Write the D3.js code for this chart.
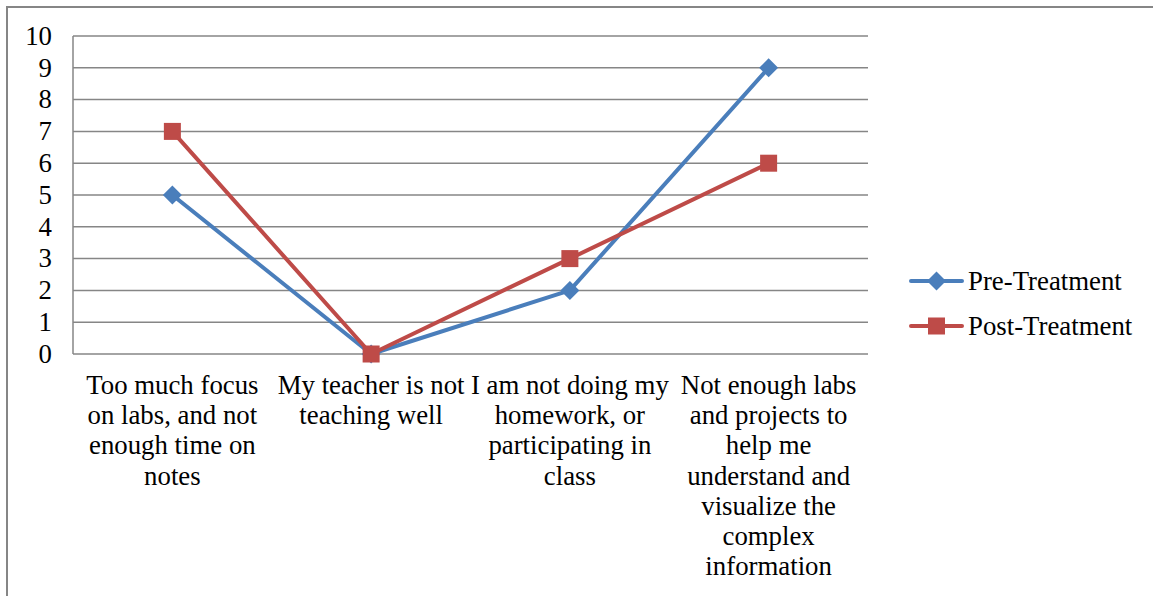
<!DOCTYPE html>
<html>
<head>
<meta charset="utf-8">
<script src="https://cdn.jsdelivr.net/npm/d3@7"></script>
<style>
  body { margin: 0; background: #fff; }
  text { font-family: "Liberation Serif", "Times New Roman", serif; fill: #000; }
</style>
</head>
<body>
<div id="chart"></div>
<script>
// data
var categories = [
  "Too much focus on labs, and not enough time on notes",
  "My teacher is not teaching well",
  "I am not doing my homework, or participating in class",
  "Not enough labs and projects to help me understand and visualize the complex information"
];
// wrapped category labels as they appear
var categoryLines = [
  ["Too much focus", "on labs, and not", "enough time on", "notes"],
  ["My teacher is not", "teaching well"],
  ["I am not doing my", "homework, or", "participating in", "class"],
  ["Not enough labs", "and projects to", "help me", "understand and", "visualize the", "complex", "information"]
];
var preTreatment = [5, 0, 2, 9];
var postTreatment = [7, 0, 3, 6];
var yTicks = [0, 1, 2, 3, 4, 5, 6, 7, 8, 9, 10];

var W = 1153, H = 596;
var margin = {top: 36, left: 73, right: 285, bottom: 242};
var fontSize = "26.8px";

var svg = d3.select("#chart")
  .append("svg")
    .attr("width", W)
    .attr("height", H);

// outer frame
svg.append("rect")
  .attr("x", 7).attr("y", 7)
  .attr("width", W + 20).attr("height", H + 20)
  .attr("fill", "none")
  .attr("stroke", "#868686")
  .attr("stroke-width", 2);

var x = d3.scaleBand()
  .domain(categories)
  .range([margin.left, W - margin.right]);

var y = d3.scaleLinear()
  .domain([0, 10])
  .range([H - margin.bottom, margin.top]);

function cx(i) { return x(categories[i]) + x.bandwidth() / 2; }

// gridlines
svg.append("g")
  .selectAll("line")
  .data(yTicks)
  .enter()
  .append("line")
    .attr("x1", margin.left)
    .attr("x2", W - margin.right)
    .attr("y1", function(d) { return y(d); })
    .attr("y2", function(d) { return y(d); })
    .attr("stroke", "#868686")
    .attr("stroke-width", 1.5);

// left axis line
svg.append("line")
  .attr("x1", margin.left).attr("x2", margin.left)
  .attr("y1", y(10)).attr("y2", y(0))
  .attr("stroke", "#868686")
  .attr("stroke-width", 1.5);

// y tick labels
svg.append("g")
  .selectAll("text")
  .data(yTicks)
  .enter()
  .append("text")
    .attr("x", 52)
    .attr("y", function(d) { return y(d); })
    .attr("dy", "0.33em")
    .attr("text-anchor", "end")
    .style("font-size", fontSize)
    .text(function(d) { return d; });

// category labels
var cat = svg.append("g")
  .selectAll("text")
  .data(categoryLines)
  .enter()
  .append("text")
    .attr("text-anchor", "middle")
    .style("font-size", fontSize);
cat.each(function(lines, i) {
  d3.select(this).selectAll("tspan")
    .data(lines)
    .enter()
    .append("tspan")
      .attr("x", cx(i))
      .attr("y", function(d, j) { return 394 + j * 30.2; })
      .text(function(d) { return d; });
});

var line = d3.line()
  .x(function(d, i) { return cx(i); })
  .y(function(d) { return y(d); });

var series = [
  {name: "Pre-Treatment", values: preTreatment, color: "#4A7EBB", shape: "diamond"},
  {name: "Post-Treatment", values: postTreatment, color: "#BE4B48", shape: "square"}
];

function marker(g, shape, color, px, py) {
  if (shape === "diamond") {
    var r = 9.5;
    g.append("path")
      .attr("d", "M" + px + "," + (py - r) + "L" + (px + r) + "," + py + "L" + px + "," + (py + r) + "L" + (px - r) + "," + py + "Z")
      .attr("fill", color);
  } else {
    var s = 17;
    g.append("rect")
      .attr("x", px - s / 2).attr("y", py - s / 2)
      .attr("width", s).attr("height", s)
      .attr("fill", color);
  }
}

series.forEach(function(s) {
  var g = svg.append("g");
  g.append("path")
    .attr("d", line(s.values))
    .attr("fill", "none")
    .attr("stroke", s.color)
    .attr("stroke-width", 4)
    .attr("stroke-linejoin", "round");
  s.values.forEach(function(v, i) {
    marker(g, s.shape, s.color, cx(i), y(v));
  });
});

// legend
series.forEach(function(s, i) {
  var ly = 281 + i * 45;
  var g = svg.append("g");
  g.append("line")
    .attr("x1", 911).attr("x2", 962)
    .attr("y1", ly).attr("y2", ly)
    .attr("stroke", s.color)
    .attr("stroke-width", 4)
    .attr("stroke-linecap", "round");
  marker(g, s.shape, s.color, 936.5, ly);
  g.append("text")
    .attr("x", 968)
    .attr("y", ly)
    .attr("dy", "0.33em")
    .style("font-size", fontSize)
    .text(s.name);
});
</script>
</body>
</html>
